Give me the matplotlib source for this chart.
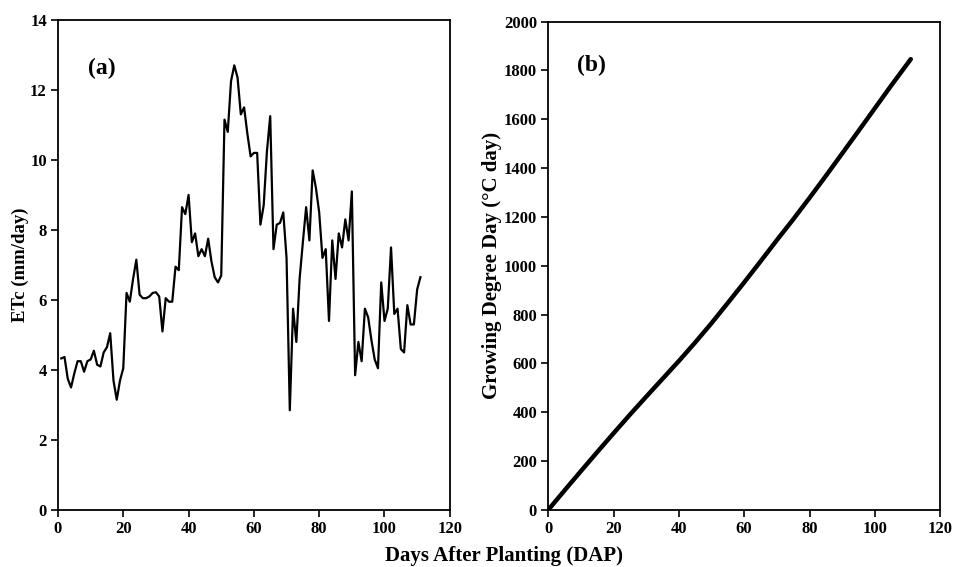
import matplotlib.pyplot as plt

# (a) daily crop evapotranspiration
days = list(range(1, 112))
etc = [4.33, 4.37, 3.75, 3.5, 3.9, 4.25, 4.25, 3.95, 4.25, 4.3,
       4.55, 4.15, 4.1, 4.5, 4.65, 5.05, 3.7, 3.15, 3.7, 4.05,
       6.2, 5.95, 6.6, 7.15, 6.15, 6.05, 6.05, 6.1, 6.2, 6.22,
       6.1, 5.1, 6.05, 5.95, 5.95, 6.95, 6.85, 8.65, 8.45, 9.0,
       7.65, 7.9, 7.25, 7.45, 7.25, 7.75, 7.1, 6.65, 6.5, 6.7,
       11.15, 10.8, 12.25, 12.7, 12.35, 11.3, 11.5, 10.75, 10.1, 10.2,
       10.2, 8.15, 8.7, 10.25, 11.25, 7.45, 8.15, 8.2, 8.5, 7.2,
       2.85, 5.75, 4.8, 6.6, 7.65, 8.65, 7.7, 9.7, 9.2, 8.5,
       7.2, 7.45, 5.4, 7.7, 6.6, 7.9, 7.5, 8.3, 7.7, 9.1,
       3.85, 4.8, 4.25, 5.75, 5.5, 4.85, 4.3, 4.05, 6.5, 5.4,
       5.75, 7.5, 5.6, 5.75, 4.6, 4.5, 5.85, 5.3, 5.3, 6.3,
       6.65]

# (b) cumulative growing degree days
gdd_days = [0, 5, 10, 15, 20, 25, 30, 35, 40, 45, 50, 55, 60, 65, 70,
            75, 80, 85, 90, 95, 100, 105, 111]
gdd = [0, 80, 159, 237, 314, 390, 464, 537, 610, 686, 765, 848, 932, 1018,
       1105, 1190, 1278, 1368, 1460, 1552, 1645, 1738, 1846]

plt.rcParams['font.family'] = 'Liberation Serif'
plt.rcParams['font.weight'] = 'bold'

fig = plt.figure(figsize=(9.55, 5.67), dpi=100)
ax1 = fig.add_axes([0.0607, 0.1005, 0.4103, 0.8645])
ax2 = fig.add_axes([0.574, 0.1005, 0.4105, 0.8615])

ax1.plot(days, etc, color='black', lw=1.6)
ax1.set_xlim(0, 120)
ax1.set_ylim(0, 14)
ax1.set_yticks(range(0, 15, 2))
ax1.set_ylabel('ETc (mm/day)', fontsize=13.5, fontweight='bold', labelpad=1)
ax1.text(9.2, 12.6, '(a)', fontsize=17, fontweight='bold', va='center')

ax2.plot(gdd_days, gdd, color='black', lw=3.2, solid_capstyle='round')
ax2.set_xlim(0, 120)
ax2.set_ylim(0, 2000)
ax2.set_yticks(range(0, 2001, 200))
ax2.set_ylabel('Growing Degree Day (°C day)', fontsize=15, fontweight='bold', labelpad=1)
ax2.text(8.9, 1821, '(b)', fontsize=17, fontweight='bold', va='center')

for ax in (ax1, ax2):
    ax.set_xticks(range(0, 121, 20))
    ax.tick_params(direction='out', length=5, width=1.2, labelsize=12, pad=3)
    for sp in ax.spines.values():
        sp.set_linewidth(1.3)
    for lab in ax.get_xticklabels() + ax.get_yticklabels():
        lab.set_fontweight('bold')

fig.text(0.528, 0.02, 'Days After Planting (DAP)', ha='center', va='center',
         fontsize=15, fontweight='bold')

fig.savefig('out.png', dpi=100)
